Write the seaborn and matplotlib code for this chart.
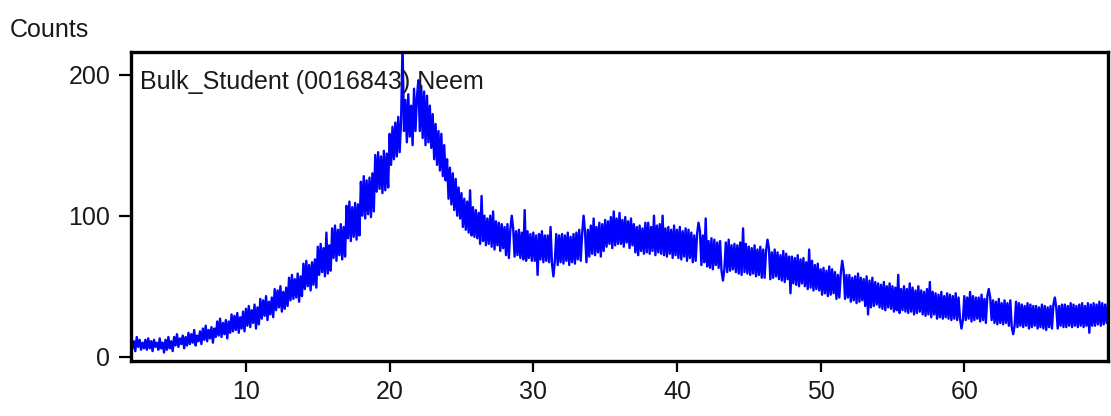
import numpy as np
import pandas as pd
import matplotlib
matplotlib.use("Agg")
import matplotlib.pyplot as plt
import seaborn as sns

# 2-theta start / step of the scan (degrees)
two_theta_start = 2.0
two_theta_step = 0.1

# counts, ten readings per degree (row label = integer 2-theta)
counts = [
    13, 6, 11, 4, 14, 7, 12, 5, 10, 6,            # 2
    12, 5, 13, 6, 11, 4, 12, 7, 10, 5,            # 3
    13, 6, 10, 3, 12, 5, 14, 6, 11, 4,            # 4
    14, 8, 16, 7, 13, 9, 15, 6, 14, 8,            # 5
    17, 9, 16, 10, 19, 8, 15, 11, 18, 9,          # 6
    20, 12, 22, 11, 19, 13, 21, 10, 20, 14,       # 7
    25, 15, 27, 14, 24, 16, 26, 13, 25, 17,       # 8
    30, 18, 29, 19, 31, 17, 28, 20, 32, 18,       # 9
    34, 22, 36, 21, 33, 24, 37, 20, 35, 23,       # 10
    41, 27, 40, 29, 43, 26, 39, 30, 42, 28,       # 11
    48, 33, 47, 35, 50, 32, 46, 34, 49, 36,       # 12
    56, 40, 58, 41, 55, 42, 59, 39, 57, 43,       # 13
    66, 48, 68, 50, 65, 47, 67, 51, 69, 49,       # 14
    78, 58, 80, 60, 77, 57, 88, 59, 79, 61,       # 15
    91, 70, 93, 68, 90, 72, 94, 69, 92, 71,       # 16
    107, 84, 110, 82, 106, 85, 109, 83, 108, 86,  # 17
    124, 100, 128, 98, 125, 101, 127, 99, 130, 103,  # 18
    143, 117, 145, 119, 142, 116, 146, 118, 144, 120,  # 19
    158, 136, 163, 140, 166, 142, 170, 145, 168, 222,  # 20
    160, 182, 152, 186, 156, 178, 150, 190, 160, 184,  # 21
    196, 160, 192, 155, 188, 150, 185, 152, 178, 148,  # 22
    172, 140, 165, 136, 160, 132, 158, 128, 150, 125,  # 23
    140, 112, 134, 108, 130, 104, 126, 100, 120, 98,   # 24
    116, 92, 112, 90, 110, 88, 118, 86, 106, 85,  # 25
    104, 84, 102, 80, 114, 82, 100, 79, 98, 80,   # 26
    100, 78, 103, 76, 96, 79, 95, 75, 94, 77,     # 27
    92, 72, 94, 70, 90, 100, 91, 71, 89, 72,      # 28
    90, 70, 88, 69, 104, 68, 89, 70, 87, 68,      # 29
    88, 68, 86, 58, 87, 69, 89, 67, 86, 68,       # 30
    86, 67, 92, 66, 57, 68, 87, 65, 86, 67,       # 31
    87, 66, 86, 68, 88, 65, 85, 67, 87, 66,       # 32
    88, 69, 90, 68, 87, 100, 89, 67, 90, 71,      # 33
    93, 73, 98, 72, 92, 74, 95, 71, 94, 75,       # 34
    97, 78, 96, 80, 99, 77, 103, 79, 98, 80,      # 35
    102, 80, 97, 78, 99, 81, 96, 77, 98, 79,      # 36
    94, 74, 92, 72, 93, 75, 91, 73, 95, 74,       # 37
    95, 73, 92, 75, 100, 72, 93, 74, 94, 73,      # 38
    100, 72, 91, 71, 92, 73, 90, 70, 93, 72,      # 39
    90, 70, 92, 69, 89, 71, 91, 68, 90, 70,       # 40
    88, 67, 86, 68, 87, 95, 89, 65, 86, 67,       # 41
    98, 64, 82, 63, 84, 62, 83, 65, 81, 63,       # 42
    82, 61, 54, 62, 81, 60, 83, 61, 79, 62,       # 43
    80, 60, 79, 59, 81, 58, 91, 60, 80, 59,       # 44
    78, 58, 77, 59, 79, 57, 76, 58, 78, 56,       # 45
    76, 56, 75, 83, 77, 55, 74, 56, 76, 57,       # 46
    74, 55, 72, 54, 75, 53, 73, 55, 71, 45,       # 47
    71, 52, 70, 51, 72, 50, 69, 52, 70, 50,       # 48
    67, 48, 76, 49, 68, 47, 65, 48, 66, 47,       # 49
    62, 44, 63, 45, 61, 43, 64, 44, 62, 45,       # 50
    60, 41, 58, 42, 59, 68, 61, 41, 58, 42,       # 51
    58, 39, 56, 40, 57, 38, 59, 39, 56, 40,       # 52
    55, 36, 57, 30, 54, 35, 56, 36, 53, 37,       # 53
    52, 35, 51, 34, 53, 33, 50, 35, 52, 34,       # 54
    50, 32, 49, 33, 58, 31, 48, 33, 50, 32,       # 55
    48, 31, 52, 32, 49, 30, 47, 31, 50, 32,       # 56
    47, 30, 46, 29, 48, 30, 53, 28, 46, 30,       # 57
    45, 27, 44, 28, 46, 27, 43, 28, 45, 27,       # 58
    44, 26, 43, 27, 45, 26, 42, 27, 20, 26,       # 59
    43, 26, 42, 27, 46, 25, 43, 26, 42, 27,       # 60
    42, 25, 44, 26, 41, 24, 43, 48, 42, 26,       # 61
    40, 24, 39, 23, 41, 24, 38, 23, 40, 24,       # 62
    38, 22, 40, 21, 16, 22, 39, 21, 38, 22,       # 63
    37, 21, 36, 22, 38, 20, 37, 21, 36, 22,       # 64
    36, 20, 35, 21, 37, 20, 36, 19, 35, 21,       # 65
    36, 20, 37, 42, 35, 20, 36, 22, 37, 21,       # 66
    37, 21, 36, 22, 38, 21, 37, 22, 36, 21,       # 67
    37, 22, 38, 21, 36, 22, 38, 17, 37, 22,       # 68
    38, 22, 37, 23, 39, 22, 38, 23, 37, 24,       # 69
    38,                                           # 70
]

x_ticks = [10, 20, 30, 40, 50, 60]
y_ticks = [0, 100, 200]
y_label = "Counts"
sample_label = "Bulk_Student (0016843) Neem"

two_theta = two_theta_start + two_theta_step * np.arange(len(counts))
df = pd.DataFrame({"two_theta": two_theta, "counts": counts})

sns.set_style("white")
plt.rcParams["font.family"] = ["Liberation Sans", "DejaVu Sans"]

fig = plt.figure(figsize=(11.11, 4.16), dpi=100)
ax = fig.add_axes([131 / 1111, 1 - 361 / 416, 977 / 1111, 309 / 416])

sns.lineplot(data=df, x="two_theta", y="counts", ax=ax, color="blue",
             linewidth=1.7, estimator=None, sort=False)

ax.set_xlim(2, 70)
ax.set_ylim(-3, 216)
ax.set_xticks(x_ticks)
ax.set_yticks(y_ticks)
ax.set_xlabel("")
ax.set_ylabel("")
ax.tick_params(axis="both", direction="out", length=9, width=1.6,
               color="black", labelsize=18, pad=6, labelcolor="#1a1a1a")
ax.tick_params(axis="x", bottom=True, length=8)
ax.tick_params(axis="y", left=True)
for sp in ax.spines.values():
    sp.set_visible(True)
    sp.set_color("black")
    sp.set_linewidth(2.4)

ax.text(0.009, 0.903, sample_label, transform=ax.transAxes, fontsize=18,
        va="center", ha="left", color="#1a1a1a")
fig.text(10 / 1111, 1 - 30 / 416, y_label, fontsize=18, va="center",
         ha="left", color="#1a1a1a")

fig.savefig("out.png", dpi=100)
